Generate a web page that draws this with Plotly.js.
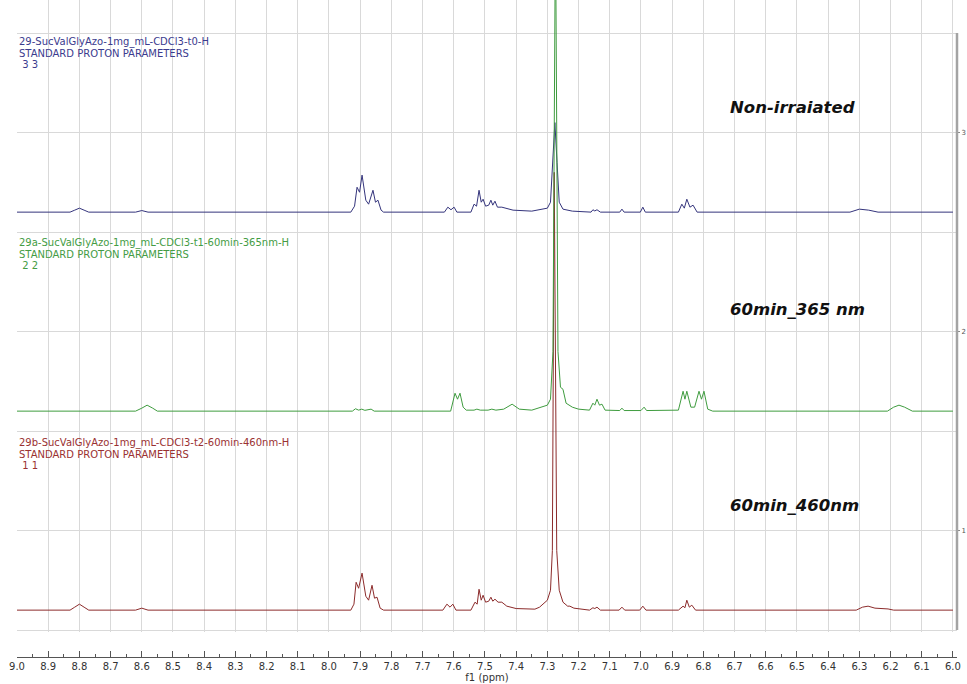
<!DOCTYPE html>
<html>
<head>
<meta charset="utf-8">
<script src="https://cdn.plot.ly/plotly-3.0.1.min.js"></script>
<style>
html,body{margin:0;padding:0;background:#fff;}
#chart{width:967px;height:684px;}
</style>
</head>
<body>
<div id="chart"></div>
<script>
// ---- Data (chemical shift in ppm, intensity above each trace's baseline) ----
const blueShift = [9.00,8.83,8.815,8.80,8.785,8.77,8.62,8.60,8.58,7.93,7.918,7.910,7.902,7.894,7.882,7.873,7.859,7.851,7.843,7.833,7.825,7.63,7.619,7.609,7.599,7.59,7.545,7.535,7.527,7.519,7.512,7.506,7.498,7.488,7.481,7.475,7.468,7.460,7.446,7.430,7.41,7.35,7.30,7.29,7.284,7.276,7.269,7.262,7.25,7.22,7.16,7.154,7.148,7.141,7.13,7.068,7.061,7.054,7.002,6.994,6.986,6.88,6.869,6.861,6.853,6.843,6.833,6.82,6.33,6.30,6.27,6.24,6.00];
const blueInt   = [0,0,0.01,0.02,0.01,0,0,0.008,0,0,0.03,0.125,0.10,0.186,0.06,0.04,0.11,0.05,0.06,0.01,0,0,0.025,0.012,0.025,0,0,0.04,0.03,0.11,0.05,0.065,0.03,0.035,0.06,0.035,0.055,0.025,0.025,0.02,0.01,0.005,0.02,0.05,0.25,0.45,0.25,0.05,0.015,0.005,0,0.012,0.006,0.012,0,0,0.015,0,0,0.025,0,0,0.04,0.02,0.065,0.025,0.035,0,0,0.015,0.01,0,0];

const greenShift = [9.00,8.62,8.60,8.583,8.565,8.55,7.925,7.915,7.905,7.895,7.885,7.865,7.855,7.61,7.596,7.588,7.580,7.570,7.56,7.535,7.526,7.515,7.49,7.478,7.465,7.44,7.413,7.39,7.35,7.30,7.29,7.282,7.274,7.266,7.258,7.250,7.24,7.22,7.20,7.165,7.154,7.148,7.141,7.133,7.125,7.115,7.068,7.061,7.054,7.00,6.990,6.982,6.88,6.865,6.859,6.853,6.840,6.828,6.814,6.806,6.798,6.786,6.77,6.21,6.19,6.173,6.155,6.13,6.00];
const greenInt   = [0,0,0.015,0.03,0.015,0,0,0.012,0.005,0.01,0.004,0.01,0,0,0.09,0.06,0.09,0.02,0.005,0.005,0.01,0.005,0.005,0.01,0.005,0.01,0.035,0.01,0.005,0.03,0.06,0.3,2.5,0.3,0.12,0.11,0.04,0.02,0.01,0.005,0.04,0.03,0.06,0.03,0.035,0.005,0.003,0.015,0.003,0.003,0.02,0.003,0.005,0.1,0.06,0.1,0.02,0.02,0.1,0.06,0.1,0.01,0,0,0.02,0.03,0.02,0,0];

const redShift = [9.00,8.83,8.815,8.80,8.785,8.77,8.62,8.60,8.58,7.93,7.920,7.913,7.905,7.894,7.882,7.873,7.862,7.854,7.846,7.836,7.825,7.635,7.622,7.612,7.603,7.593,7.545,7.532,7.525,7.519,7.512,7.506,7.498,7.488,7.481,7.475,7.468,7.458,7.446,7.43,7.40,7.34,7.325,7.314,7.30,7.29,7.284,7.278,7.270,7.262,7.25,7.235,7.228,7.215,7.165,7.154,7.148,7.141,7.13,7.07,7.061,7.052,7.004,6.994,6.984,6.88,6.865,6.859,6.853,6.845,6.837,6.825,6.31,6.29,6.272,6.25,6.208,6.19,6.00];
const redInt   = [0,0,0.015,0.03,0.015,0,0,0.01,0,0,0.03,0.14,0.11,0.186,0.07,0.05,0.125,0.06,0.065,0.01,0,0,0.03,0.015,0.03,0,0,0.04,0.03,0.105,0.05,0.075,0.04,0.045,0.065,0.045,0.055,0.04,0.04,0.02,0.008,0.005,0.015,0.03,0.05,0.1,0.3,2.2,0.3,0.1,0.04,0.02,0.02,0.01,0,0.012,0.008,0.015,0,0,0.015,0,0,0.02,0,0,0.02,0.012,0.05,0.015,0.025,0,0,0.015,0.02,0.01,0.006,0,0];

const spectrumNames = ["29-SucValGlyAzo-1mg_mL-CDCl3-t0-H","29a-SucValGlyAzo-1mg_mL-CDCl3-t1-60min-365nm-H","29b-SucValGlyAzo-1mg_mL-CDCl3-t2-60min-460nm-H"];
const paramLine = "STANDARD PROTON PARAMETERS";
const indexLines = ["\u00a03 3","\u00a02 2","\u00a01 1"];
const conditionLabels = ["Non-irraiated","60min_365 nm","60min_460nm"];
const xTickLabelsFrom = 6.0, xTickLabelsTo = 9.0;

// ---- Styling / layout ----
const colors = ["#34347c","#3f9c3f","#8c2b2b"];
const textColors = ["#3b3b8e","#449c44","#9a3131"];
const offsets = [2.6, 1.6, 0.6];
const YTOP = 3.666, YBOT = 0.49;
const pxToY = p => 3.5 - (p - 33) / 199;

const series = [[blueShift, blueInt],[greenShift, greenInt],[redShift, redInt]];
const drawOrder = [0, 2, 1];
const traces = drawOrder.map(i => ({
  type: 'scatter', mode: 'lines',
  x: series[i][0],
  y: series[i][1].map(v => v + offsets[i]),
  line: {color: colors[i], width: 1},
  hoverinfo: 'skip', showlegend: false
}));

const annotations = [];
const labelTop = [42, 243, 443];
const condY = [107, 309, 505];
for (let i = 0; i < 3; i++) {
  const lines = [spectrumNames[i], paramLine, indexLines[i]];
  lines.forEach((t, k) => annotations.push({
    xref: 'paper', yref: 'y', x: 0, y: pxToY(labelTop[i] + k * 11),
    xanchor: 'left', yanchor: 'middle', text: t, showarrow: false,
    font: {family: 'DejaVu Sans, Verdana, sans-serif', size: 10, color: textColors[i]}
  }));
  annotations.push({
    xref: 'paper', yref: 'y', x: 0.756, y: pxToY(condY[i]),
    xanchor: 'left', yanchor: 'middle', text: '<b><i>' + conditionLabels[i] + '</i></b>', showarrow: false,
    font: {family: 'DejaVu Sans, Verdana, sans-serif', size: 16.5, color: '#111'}
  });
}

const grid = '#d9d9d9';
const layout = {
  width: 967, height: 684,
  margin: {l: 17, r: 10, t: 0, b: 27, pad: 0},
  paper_bgcolor: '#fff', plot_bgcolor: '#fff',
  xaxis: {
    range: [xTickLabelsTo, 5.987], anchor: 'free', position: 0,
    tick0: xTickLabelsFrom, dtick: 0.1, tickformat: '.1f',
    showgrid: true, gridcolor: grid, gridwidth: 1, zeroline: false,
    showline: true, linecolor: '#555', linewidth: 1,
    ticks: 'inside', ticklen: 6, tickcolor: '#555', tickwidth: 1,
    minor: {dtick: 0.05, ticks: 'inside', ticklen: 3, tickcolor: '#555', showgrid: false},
    tickfont: {family: 'DejaVu Sans, Verdana, sans-serif', size: 10, color: '#333'},
    title: {text: 'f1 (ppm)', standoff: 0, font: {family: 'DejaVu Sans, Verdana, sans-serif', size: 10, color: '#333'}}
  },
  yaxis: {
    domain: [0.038, 1], range: [YBOT, YTOP], side: 'right',
    tick0: 0, dtick: 1, showgrid: true, gridcolor: grid, zeroline: false,
    minor: {tick0: 0, dtick: 0.5, showgrid: true, gridcolor: grid, ticks: ''},
    ticks: 'outside', ticklen: 2, tickcolor: '#888', showline: false,
    tickfont: {family: 'DejaVu Sans, Verdana, sans-serif', size: 7, color: '#555'}
  },
  shapes: [
    {type: 'rect', layer: 'between', xref: 'paper', yref: 'y', x0: -0.01, x1: 1.01, y0: 3.503, y1: 3.8,
     fillcolor: '#fff', line: {width: 0}},
    {type: 'line', xref: 'paper', yref: 'y', x0: 1, x1: 1, y0: 0.5, y1: 3.5,
     line: {color: '#a3a3a3', width: 2.5}}
  ],
  annotations: annotations
};

Plotly.newPlot('chart', traces, layout, {displayModeBar: false, staticPlot: true});
</script>
</body>
</html>
